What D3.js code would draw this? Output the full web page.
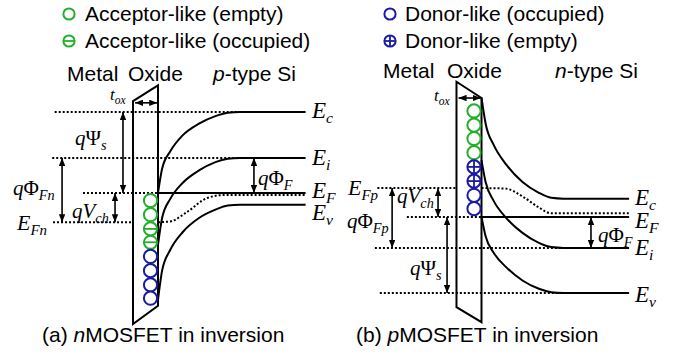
<!DOCTYPE html>
<html>
<head>
<meta charset="utf-8">
<script src="https://cdn.jsdelivr.net/npm/d3@7"></script>
<style>
body { margin: 0; background: #fff; }
</style>
</head>
<body>
<script>
// position along the device in units of the depletion width (0 = oxide/Si interface)
var bandX = [0, 0.05, 0.15, 0.3, 0.5, 0.7, 0.85, 1.0];
var bulkEnd = 1.8;

// (a) nMOSFET in inversion, energies in eV relative to bulk Fermi level
var nEc = [0, 0.29, 0.50, 0.69, 0.83, 0.92, 0.96, 0.97];
var nEi = [-0.62, -0.30, -0.07, 0.12, 0.27, 0.37, 0.41, 0.42];
var nEv = [-1.28, -0.93, -0.68, -0.47, -0.30, -0.20, -0.15, -0.14];
var nQuasiX = [0, 0.15, 0.35, 0.6, 0.8, 1.8];
var nQuasiE = [-0.35, -0.34, -0.23, -0.06, -0.025, -0.025];
var nOxide = [1.10, 1.29, -1.35, -1.57];  // top-left, top-right, bottom-right, bottom-left
var nTrapE = [-0.09, -0.26, -0.43, -0.59, -0.76, -0.93, -1.10, -1.26];
var nTrapType = ["accEmpty", "accEmpty", "accOcc", "accOcc", "donOcc", "donOcc", "donOcc", "donOcc"];

// (b) pMOSFET in inversion
var pEc = [1.43, 1.12, 0.86, 0.63, 0.42, 0.29, 0.23, 0.22];
var pEi = [0.68, 0.42, 0.19, -0.01, -0.19, -0.31, -0.36, -0.37];
var pEv = [0, -0.23, -0.43, -0.60, -0.76, -0.86, -0.90, -0.91];
var pQuasiX = [0, 0.29, 0.51, 0.69, 0.85, 1.8];
var pQuasiE = [0.347, 0.34, 0.24, 0.12, 0.045, 0.045];
var pOxide = [1.62, 1.425, -1.26, -1.08];
var pTrapE = [1.27, 1.10, 0.94, 0.77, 0.60, 0.43, 0.26, 0.10];
var pTrapType = ["accEmpty", "accEmpty", "accEmpty", "accEmpty", "donEmpty", "donEmpty", "donOcc", "donOcc"];

var legendA = ["Acceptor-like (empty)", "Acceptor-like (occupied)"];
var legendB = ["Donor-like (occupied)", "Donor-like (empty)"];

var GREEN = "#22b02a", BLUE = "#1a1aa6";
var SANS = "'Liberation Sans', Arial, sans-serif";
var SERIF = "'Liberation Serif', 'Times New Roman', serif";
var DOT = "2,2";

var svg = d3.select("body").append("svg")
    .attr("xmlns", "http://www.w3.org/2000/svg")
    .attr("width", 680)
    .attr("height", 355);

svg.append("defs").append("marker")
    .attr("id", "head")
    .attr("viewBox", "0 0 10 8")
    .attr("refX", 10).attr("refY", 4)
    .attr("markerWidth", 8).attr("markerHeight", 6.4)
    .attr("markerUnits", "userSpaceOnUse")
    .attr("orient", "auto-start-reverse")
    .append("path").attr("d", "M0,0 L10,4 L0,8 z").attr("fill", "#000");

var x = d3.scaleLinear().domain([0, 1]).range([158, 240]);
var yA = d3.scaleLinear().domain([0, 1]).range([193, 109.5]);
var yB = d3.scaleLinear().domain([0, 1]).range([217, 133.5]);

function trapSymbol(g, cx, cy, r, type) {
    var col = type.indexOf("acc") === 0 ? GREEN : BLUE;
    g.append("circle").attr("cx", cx).attr("cy", cy).attr("r", r)
        .attr("fill", "#fff").attr("stroke", col).attr("stroke-width", 2);
    if (type === "accOcc" || type === "donEmpty")
        g.append("line").attr("x1", cx - r).attr("x2", cx + r).attr("y1", cy).attr("y2", cy)
            .attr("stroke", col).attr("stroke-width", 1.8);
    if (type === "donEmpty")
        g.append("line").attr("x1", cx).attr("x2", cx).attr("y1", cy - r).attr("y2", cy + r)
            .attr("stroke", col).attr("stroke-width", 1.8);
}

// math label: parts = [[text, "i" | "r" | "s"]]
function mathText(g, px, py, size, parts) {
    var t = g.append("text").attr("x", px).attr("y", py)
        .attr("font-family", SERIF).attr("font-size", size);
    parts.forEach(function(p) {
        var s = t.append("tspan").text(p[0]);
        if (p[1] === "r") s.attr("font-style", "normal");
        else s.attr("font-style", "italic");
        if (p[1] === "s") s.attr("font-size", size * 0.68).attr("dy", size * 0.22);
    });
}

function drawPanel(spec) {
    var g = svg.append("g").attr("transform", "translate(" + spec.dx + ",0)");
    var y = spec.y;
    var line = d3.line().x(function(d) { return x(d[0]); }).y(function(d) { return y(d[1]); });
    var curve = d3.line().x(function(d) { return x(d[0]); }).y(function(d) { return y(d[1]); })
        .curve(d3.curveMonotoneX);

    // dotted reference levels
    spec.dotted.forEach(function(d) {
        g.append("path").attr("d", line([[d[0], d[2]], [d[1], d[2]]]))
            .attr("fill", "none").attr("stroke", "#000").attr("stroke-width", 2)
            .attr("stroke-dasharray", DOT);
    });

    // quasi Fermi level in the silicon
    g.append("path")
        .attr("d", curve(spec.quasiX.map(function(v, i) { return [v, spec.quasiE[i]]; })))
        .attr("fill", "none").attr("stroke", "#000").attr("stroke-width", 2)
        .attr("stroke-dasharray", DOT);

    // Fermi level (solid in Si)
    g.append("path").attr("d", line([[0, 0], [bulkEnd, 0]]))
        .attr("stroke", "#000").attr("stroke-width", 2);

    // bands
    spec.bands.forEach(function(b) {
        var pts = bandX.map(function(v, i) { return [v, b[i]]; });
        pts.push([bulkEnd, b[b.length - 1]]);
        g.append("path").attr("d", curve(pts))
            .attr("fill", "none").attr("stroke", "#000").attr("stroke-width", 2);
    });

    // oxide
    var ox = spec.oxide, xl = -0.305;
    g.append("path")
        .attr("d", line([[xl, ox[0]], [0, ox[1]], [0, ox[2]], [xl, ox[3]]]) + "Z")
        .attr("fill", "none").attr("stroke", "#000").attr("stroke-width", 2)
        .attr("stroke-linejoin", "miter");

    // oxide traps
    spec.trapE.forEach(function(e, i) {
        trapSymbol(g, x(0) - 7.5, y(e), 6.6, spec.trapType[i]);
    });

    // arrows
    spec.arrows.forEach(function(a) {
        g.append("line").attr("x1", x(a[0])).attr("x2", x(a[0]))
            .attr("y1", y(a[1])).attr("y2", y(a[2]))
            .attr("stroke", "#000").attr("stroke-width", 1.6)
            .attr("marker-start", "url(#head)").attr("marker-end", "url(#head)");
    });
    g.append("line").attr("x1", x(-0.28)).attr("x2", x(-0.01))
        .attr("y1", y(spec.toxE)).attr("y2", y(spec.toxE))
        .attr("stroke", "#000").attr("stroke-width", 1.6)
        .attr("marker-start", "url(#head)").attr("marker-end", "url(#head)");
    return g;
}

drawPanel({
    dx: 0, y: yA,
    bands: [nEc, nEi, nEv],
    quasiX: nQuasiX, quasiE: nQuasiE,
    oxide: nOxide, trapE: nTrapE, trapType: nTrapType,
    dotted: [[-1.26, 1, nEc[7]], [-1.29, 1, nEi[7]], [-0.915, 0, 0], [-1.28, -0.305, nQuasiE[0]]],
    arrows: [[-0.427, nEc[7], 0], [-1.17, nEi[7], nQuasiE[0]], [-0.524, 0, nQuasiE[0]], [1.17, nEi[7], 0]],
    toxE: 1.08
});
drawPanel({
    dx: 323.5, y: yB,
    bands: [pEc, pEi, pEv],
    quasiX: pQuasiX, quasiE: pQuasiE,
    oxide: pOxide, trapE: pTrapE, trapType: pTrapType,
    dotted: [[-1.27, -0.305, pQuasiE[0]], [-0.91, 0, 0], [-1.30, 1, pEi[7]], [-1.24, 1, pEv[7]]],
    arrows: [[-0.53, pQuasiE[0], 0], [-1.09, pQuasiE[0], pEi[7]], [-0.42, 0, pEv[7]], [1.335, 0, pEi[7]]],
    toxE: 1.425
});

// legends
function legend(items, types, sx, tx) {
    items.forEach(function(s, i) {
        trapSymbol(svg, sx, 14 + 27 * i, 5.6, types[i]);
        svg.append("text").attr("x", tx).attr("y", 21 + 27 * i)
            .attr("font-family", SANS).attr("font-size", 21).text(s);
    });
}
legend(legendA, ["accEmpty", "accOcc"], 69, 85);
legend(legendB, ["donOcc", "donEmpty"], 390, 405);

// region headers
function header(px, py, italic, rest) {
    var t = svg.append("text").attr("x", px).attr("y", py)
        .attr("font-family", SANS).attr("font-size", 21);
    if (italic) t.append("tspan").attr("font-style", "italic").text(italic);
    t.append("tspan").text(rest);
}
header(67, 81, "", "Metal");
header(128, 81, "", "Oxide");
header(213, 81, "p", "-type Si");
header(383, 78, "", "Metal");
header(447, 78, "", "Oxide");
header(555, 78, "n", "-type Si");

// captions
function caption(px, tag, italic) {
    var t = svg.append("text").attr("x", px).attr("y", 342)
        .attr("font-family", SANS).attr("font-size", 21);
    t.append("tspan").text(tag + " ");
    t.append("tspan").attr("font-style", "italic").text(italic);
    t.append("tspan").text("MOSFET in inversion");
}
caption(42, "(a)", "n");
caption(356, "(b)", "p");

// math labels, panel (a)
mathText(svg, 312, 118, 23, [["E", "i"], ["c", "s"]]);
mathText(svg, 312, 165, 23, [["E", "i"], ["i", "s"]]);
mathText(svg, 312, 198, 23, [["E", "i"], ["F", "s"]]);
mathText(svg, 312, 220, 23, [["E", "i"], ["v", "s"]]);
mathText(svg, 258, 185, 21, [["q", "i"], ["\u03A6", "r"], ["F", "s"]]);
mathText(svg, 75, 145, 21, [["q", "i"], ["\u03A8", "r"], ["s", "s"]]);
mathText(svg, 13, 195, 21, [["q", "i"], ["\u03A6", "r"], ["Fn", "s"]]);
mathText(svg, 72, 218, 21, [["q", "i"], ["V", "i"], ["ch", "s"]]);
mathText(svg, 17, 230, 22, [["E", "i"], ["Fn", "s"]]);
mathText(svg, 110, 100, 17, [["t", "i"], ["ox", "s"]]);

// math labels, panel (b)
mathText(svg, 635, 205, 23, [["E", "i"], ["c", "s"]]);
mathText(svg, 635, 228, 23, [["E", "i"], ["F", "s"]]);
mathText(svg, 635, 255, 23, [["E", "i"], ["i", "s"]]);
mathText(svg, 635, 302, 23, [["E", "i"], ["v", "s"]]);
mathText(svg, 598, 242, 21, [["q", "i"], ["\u03A6", "r"], ["F", "s"]]);
mathText(svg, 397, 203, 21, [["q", "i"], ["V", "i"], ["ch", "s"]]);
mathText(svg, 347, 228, 21, [["q", "i"], ["\u03A6", "r"], ["Fp", "s"]]);
mathText(svg, 410, 275, 21, [["q", "i"], ["\u03A8", "r"], ["s", "s"]]);
mathText(svg, 348, 195, 22, [["E", "i"], ["Fp", "s"]]);
mathText(svg, 434, 101, 17, [["t", "i"], ["ox", "s"]]);
</script>
</body>
</html>
